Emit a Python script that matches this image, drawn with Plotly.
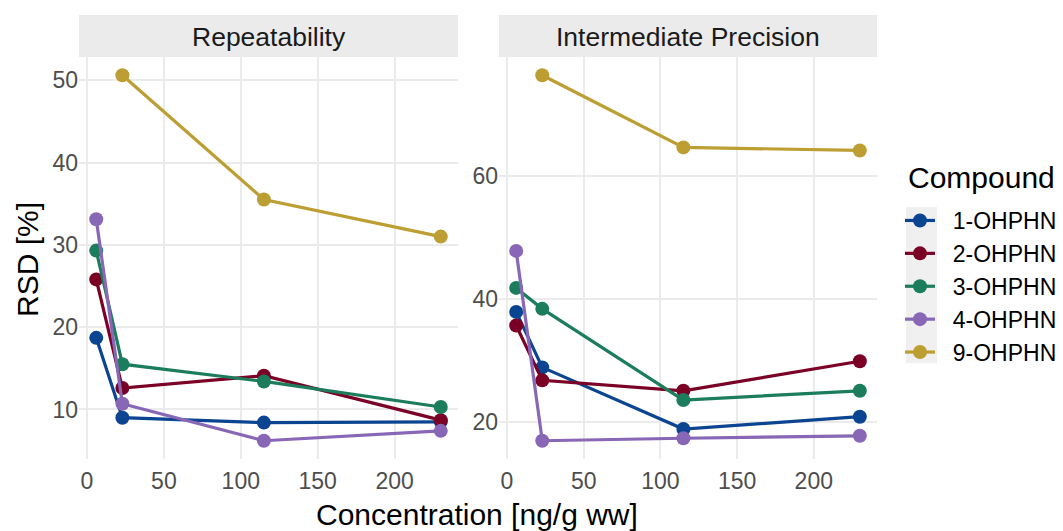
import plotly.graph_objects as go

# Spiked concentrations (ng/g ww)
concentration = [6, 23, 115, 230]

compounds = ["1-OHPHN", "2-OHPHN", "3-OHPHN", "4-OHPHN", "9-OHPHN"]
colors = ["#0B4592", "#7A0026", "#1B7D5B", "#8767B6", "#BD9E32"]

# RSD [%] - repeatability
rep_1 = [18.7, 9.0, 8.4, 8.5]
rep_2 = [25.8, 12.6, 14.1, 8.7]
rep_3 = [29.3, 15.5, 13.4, 10.3]
rep_4 = [33.1, 10.7, 6.2, 7.4]
rep_9 = [None, 50.6, 35.5, 31.0]

# RSD [%] - intermediate precision
ip_1 = [37.9, 28.9, 18.9, 20.9]
ip_2 = [35.7, 26.8, 25.1, 29.9]
ip_3 = [41.8, 38.4, 23.6, 25.1]
ip_4 = [47.8, 17.0, 17.4, 17.8]
ip_9 = [None, 76.3, 64.6, 64.1]

rep = [rep_1, rep_2, rep_3, rep_4, rep_9]
ip = [ip_1, ip_2, ip_3, ip_4, ip_9]

x_ticks = [0, 50, 100, 150, 200]
rep_ticks = [10, 20, 30, 40, 50]
ip_ticks = [20, 40, 60]

W, H = 1063, 531
FONT = "Liberation Sans, Arial, Helvetica, sans-serif"
GRID = "#EBEBEB"
TICK_COL = "#4D4D4D"
NBSP = "\u00a0"


def expanded(vals, frac=0.05):
    v = [a for a in vals if a is not None]
    lo, hi = min(v), max(v)
    pad = (hi - lo) * frac
    return [lo - pad, hi + pad]


def px_x(p):
    return p / W


def px_y(p):
    return 1 - p / H


fig = go.Figure()

for i, name in enumerate(compounds):
    fig.add_trace(go.Scatter(
        x=concentration, y=rep[i], mode="lines+markers", name=NBSP * 2 + name,
        line=dict(color=colors[i], width=3.2), marker=dict(color=colors[i], size=14),
        legendgroup=name, showlegend=True, xaxis="x", yaxis="y",
    ))
    fig.add_trace(go.Scatter(
        x=concentration, y=ip[i], mode="lines+markers", name=name,
        line=dict(color=colors[i], width=3.2), marker=dict(color=colors[i], size=14),
        legendgroup=name, showlegend=False, xaxis="x2", yaxis="y2",
    ))

x_range = expanded(concentration)
rep_range = expanded([v for s in rep for v in s])
ip_range = expanded([v for s in ip for v in s])

y_dom = [px_y(459), px_y(57)]
axis_common = dict(
    showgrid=True, gridcolor=GRID, gridwidth=2, zeroline=False, showline=False,
    ticks="", tickfont=dict(family=FONT, size=23, color=TICK_COL), automargin=False,
)
x_extra = dict(ticklabelstandoff=6)

fig.update_layout(
    width=W, height=H, margin=dict(l=0, r=0, t=0, b=0),
    paper_bgcolor="white", plot_bgcolor="white", template="none",
    font=dict(family=FONT),
    xaxis=dict(domain=[px_x(79), px_x(458)], range=x_range, tickvals=x_ticks,
               anchor="y", **axis_common, **x_extra),
    xaxis2=dict(domain=[px_x(499), px_x(877)], range=x_range, tickvals=x_ticks,
                anchor="y2", **axis_common, **x_extra),
    yaxis=dict(domain=y_dom, range=rep_range, tickvals=rep_ticks, anchor="x", **axis_common),
    yaxis2=dict(domain=y_dom, range=ip_range, tickvals=ip_ticks, anchor="x2", **axis_common),
    legend=dict(
        x=px_x(900), y=px_y(199), xanchor="left", yanchor="top",
        font=dict(family=FONT, size=23, color="black"),
        bgcolor="rgba(0,0,0,0)", itemwidth=30, tracegroupgap=0,
    ),
)

# facet strips
shapes = []
annotations = []
for (x0, x1), label in [((79, 458), "Repeatability"), ((499, 877), "Intermediate Precision")]:
    shapes.append(dict(type="rect", xref="paper", yref="paper",
                       x0=px_x(x0), x1=px_x(x1), y0=px_y(57), y1=px_y(15),
                       fillcolor="#EBEBEB", line=dict(width=0), layer="below"))
    annotations.append(dict(text=label, xref="paper", yref="paper",
                            x=px_x((x0 + x1) / 2), y=px_y(37), showarrow=False,
                            xanchor="center", yanchor="middle",
                            font=dict(family=FONT, size=26.5, color="#1A1A1A")))

# legend key background
shapes.append(dict(type="rect", xref="paper", yref="paper",
                   x0=px_x(906), x1=px_x(937), y0=px_y(363), y1=px_y(207),
                   fillcolor="#F0F0F0", line=dict(width=0), layer="below"))

# legend title
annotations.append(dict(text="Compound", xref="paper", yref="paper",
                        x=px_x(906), y=px_y(178), showarrow=False,
                        xanchor="left", yanchor="middle",
                        font=dict(family=FONT, size=30, color="black")))

# axis titles
annotations.append(dict(text="Concentration [ng/g ww]", xref="paper", yref="paper",
                        x=px_x(477), y=px_y(514), showarrow=False,
                        xanchor="center", yanchor="middle",
                        font=dict(family=FONT, size=30, color="black")))
annotations.append(dict(text="RSD [%]", xref="paper", yref="paper",
                        x=px_x(27), y=px_y(260), showarrow=False, textangle=-90,
                        xanchor="center", yanchor="middle",
                        font=dict(family=FONT, size=30, color="black")))

fig.update_layout(shapes=shapes, annotations=annotations)

fig.write_html("out.html")
